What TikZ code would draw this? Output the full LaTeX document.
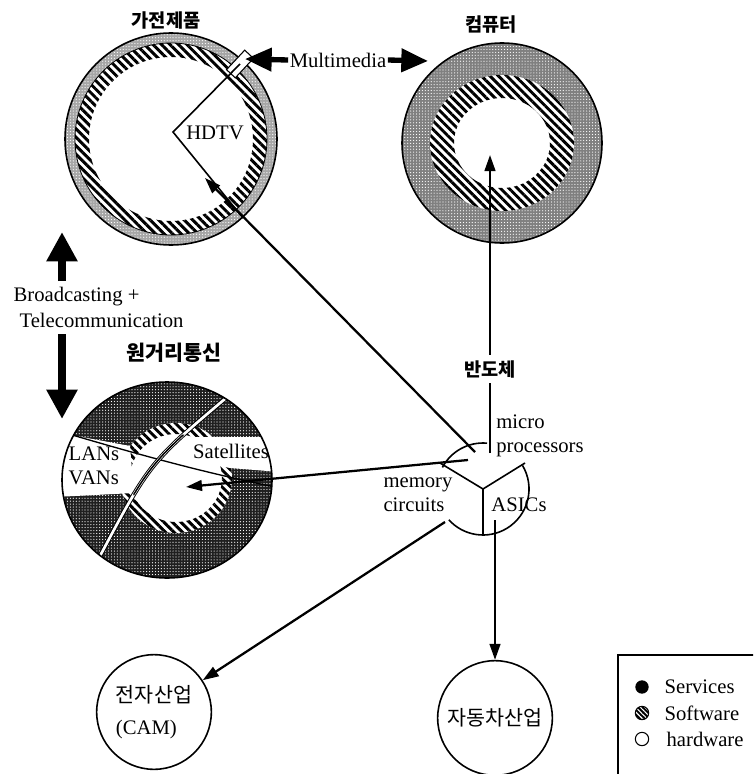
\documentclass[tikz,border=0pt]{standalone}
\usepackage{fontspec}
\setmainfont{Liberation Serif}
\newfontfamily\krfont{Noto Sans CJK KR}
\usetikzlibrary{arrows.meta, patterns.meta, positioning}

\tikzset{
    lbl/.style={font=\fontsize{15.5}{18}\selectfont, inner sep=1pt},
    krlbl/.style={font=\krfont\bfseries\fontsize{14}{16}\selectfont, inner sep=1pt},
    arr/.style={line width=1.7pt, -{Triangle[length=12pt, width=8pt]}},
    fatarr/.style={line width=4pt, -{Triangle[length=20pt, width=17pt]}},
    bigarr/.style={line width=6pt, -{Triangle[length=22pt, width=22pt]}},
    speckle/.style={pattern={Dots[distance=2.2pt, radius=0.45pt]}, pattern color=white},
    hatch/.style={pattern={Lines[angle=-45, distance=4.5pt, line width=2.2pt]}},
    ind/.style={draw, line width=1.2pt, circle, minimum size=86pt, inner sep=0pt, align=left, font=\fontsize{15.5}{24}\selectfont},
}

\begin{document}
\begin{tikzpicture}[x=0.75pt, y=-0.75pt]
    \useasboundingbox (0,0) rectangle (753,774);
    \clip (0,0) rectangle (753,774);

    % Consumer electronics ring
    \coordinate (ce) at (171,139);
    \fill[black!35] (ce) circle (106);
    \fill[speckle] (ce) circle (106);
    \fill[white] (ce) circle (96);
    \fill[hatch, even odd rule] (ce) circle (96) (ce) circle (82);
    \draw[line width=1.2pt] (ce) circle (106);
    \draw[line width=0.6pt] (ce) circle (96);
    \node[draw, fill=white, line width=0.8pt, rotate=47, minimum width=20pt, minimum height=9pt, inner sep=0pt] (gate) at (240,64) {};
    \coordinate (hdv) at (173,132);
    \coordinate (hdlow) at (243,218);
    \draw[line width=1.2pt] (gate.center) -- (hdv) -- (hdlow);
    \node[lbl] (hdtv) at (215,133) {HDTV};
    \node[krlbl] (elec) at (166,20) {가전제품};

    % Computer ring
    \coordinate (co) at (502,143);
    \fill[black!50] (co) circle (100);
    \fill[speckle] (co) circle (100);
    \fill[white] (co) ellipse [x radius=72, y radius=68];
    \fill[hatch, even odd rule] (co) ellipse [x radius=72, y radius=68] (co) ellipse [x radius=48, y radius=45];
    \draw[line width=1.2pt] (co) circle (100);
    \node[krlbl] (comp) at (491,25) {컴퓨터};

    % Multimedia
    \node[lbl] (mm) at (338,60) {Multimedia};
    \coordinate (mmL) at (245,59);
    \coordinate (mmR) at (428,61);
    \draw[fatarr] (mm.west) -- (mmL);
    \draw[fatarr] (mm.east) -- (mmR);

    % Broadcasting
    \node[lbl, anchor=west] (bc1) at (12,297) {Broadcasting +};
    \node[lbl, anchor=west] (bc2) at (18,320) {Telecommunication};
    \coordinate (bcA) at (62,281);
    \coordinate (bcUp) at (62,232);
    \coordinate (bcB) at (62,334);
    \coordinate (bcDn) at (62,419);
    \draw[bigarr] (bcA) -- (bcUp);
    \draw[bigarr] (bcB) -- (bcDn);

    % Telecommunication ring
    \node[krlbl, font=\krfont\bfseries\fontsize{15.5}{16}\selectfont] (tele) at (174,353) {원거리통신};
    \coordinate (tel) at (167,480);
    \coordinate (telin) at (176,478);
    \begin{scope}
        \clip (tel) ellipse [x radius=105, y radius=98];
        \fill[black!88] (tel) ellipse [x radius=105, y radius=98];
        \fill[speckle] (tel) ellipse [x radius=105, y radius=98];
        \fill[white] (telin) ellipse [x radius=56, y radius=55];
        \fill[hatch, even odd rule] (telin) ellipse [x radius=56, y radius=55] (telin) ellipse [x radius=46, y radius=44];
        \fill[white] (55,432) -- (130,446) -- (134,493) -- (55,497) -- cycle;
        \fill[white] (187,437) -- (280,437) -- (280,472) -- (230,468) -- (187,460) -- cycle;
        \draw[line width=1pt] (62,432) .. controls (130,452) and (200,472) .. (280,488);
        \draw[draw=black, double=white, double distance=2pt, line width=0.7pt] (232,393) .. controls (150,462) .. (100,556);
    \end{scope}
    \begin{scope}
        \clip (telin) ellipse [x radius=46, y radius=44];
        \draw[line width=1.1pt] (232,393) .. controls (150,462) .. (100,556);
    \end{scope}
    \draw[line width=1.2pt] (tel) ellipse [x radius=105, y radius=98];
    \node[lbl, align=left] (lans) at (94,466) {LANs\\VANs};
    \node[lbl] (sat) at (231,451) {Satellites};

    % Semiconductor
    \coordinate (semi) at (483,489);
    \draw[line width=1.2pt] ([shift={(-85:46)}]semi) arc[start angle=-85, end angle=-152, radius=46];
    \draw[line width=1.2pt] ([shift={(-31:46)}]semi) arc[start angle=-31, end angle=138, radius=46];
    \draw[line width=1.2pt] (440,463) -- (semi) -- (525,463);
    \draw[line width=1.2pt] (semi) -- (483,534);
    \node[lbl, align=left] (mp) at (540,436) {micro\\processors};
    \node[lbl, align=left] (mc) at (418,495) {memory\\circuits};
    \node[lbl] (asic) at (519,505) {ASICs};
    \node[krlbl, inner sep=4pt] (bdc) at (490,369) {반도체};

    % Industries
    \node[ind] (cam) at (154,712) {{\krfont 전자산업}\\(CAM)};
    \node[ind] (car) at (495,718) {\krfont 자동차산업};

    % Links
    \coordinate (s-up) at (490,453);
    \coordinate (cpu) at (490,155);
    \coordinate (s-hd) at (475,452);
    \coordinate (hd-tip) at (205,178);
    \coordinate (s-lan) at (468,460);
    \coordinate (lan-tip) at (186,487);
    \coordinate (s-cam) at (445,522);
    \coordinate (s-car) at (495,520);
    \draw[line width=1.7pt] (s-up) -- (bdc.south);
    \draw[arr] (bdc.north) -- (cpu);
    \draw[arr] (s-hd) -- (hd-tip);
    \draw[arr] (s-lan) -- (lan-tip);
    \draw[arr] (s-cam) -- (cam);
    \draw[arr] (s-car) -- (car);

    % Legend
    \draw[line width=1pt] (618,790) -- (618,655) -- (760,655);
    \node[circle, fill=black, minimum size=10pt, inner sep=0pt] (lsv) at (642,687) {};
    \node[circle, draw, line width=0.8pt, preaction={fill=black}, pattern={Lines[angle=-45, distance=2.5pt, line width=0.9pt]}, pattern color=white, minimum size=10pt, inner sep=0pt] (lsw) at (642,713) {};
    \node[circle, draw, line width=0.8pt, minimum size=10pt, inner sep=0pt] (lhw) at (642,739) {};
    \node[lbl, anchor=west] (tsv) at (663,687) {Services};
    \node[lbl, anchor=west] (tsw) at (663,713) {Software};
    \node[lbl, anchor=west] (thw) at (665,739) {hardware};
\end{tikzpicture}
\end{document}
